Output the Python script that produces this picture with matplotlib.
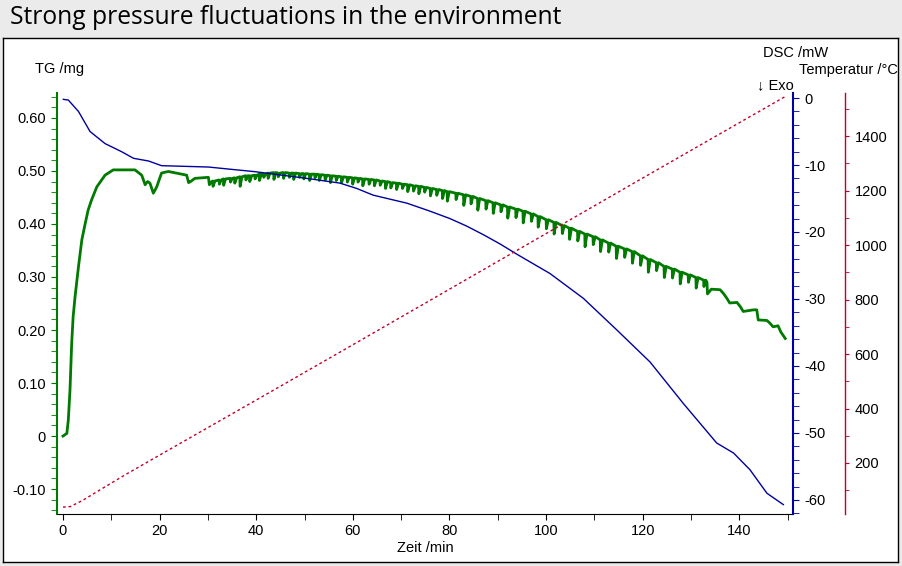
import matplotlib
matplotlib.use("Agg")
import matplotlib.pyplot as plt
from matplotlib.ticker import MultipleLocator, FuncFormatter

plt.rcParams['axes.unicode_minus'] = False
plt.rcParams['font.family'] = ['Liberation Sans', 'DejaVu Sans']

# TG /mg (green, left axis) - initial rise and the first slow dips
tg_rise_time = [0.0, 0.8, 1.1, 1.45, 1.8, 2.1, 2.5, 3.2, 3.9, 4.6, 5.2, 5.9, 7.0, 8.7, 10.4,
                14.9, 16.3, 17.0, 17.5, 18.0, 18.7, 19.4, 20.4, 21.8, 25.6, 26.0, 26.4, 27.3,
                30.1, 30.3, 30.8]
tg_rise_value = [0.000, 0.005, 0.030, 0.087, 0.175, 0.225, 0.263, 0.319, 0.370, 0.401, 0.426,
                 0.445, 0.470, 0.492, 0.502, 0.502, 0.492, 0.474, 0.480, 0.477, 0.458, 0.470,
                 0.496, 0.499, 0.492, 0.478, 0.480, 0.486, 0.488, 0.474, 0.480]

# pressure spikes: start time, level before the spike, depth of the spike
tg_spike_time = [31.0, 32.3, 33.2, 34.6, 35.5, 36.6, 37.8, 38.6, 39.7, 40.6, 41.5, 42.4, 43.6,
                 44.5, 45.6, 46.8, 47.7, 48.9, 49.8, 51.0, 52.1, 53.0, 54.2, 55.3, 56.5, 57.6,
                 58.8, 59.9, 61.0, 62.0, 63.3, 64.4, 65.6, 66.7, 67.8, 69.0, 70.2, 71.3, 72.5,
                 73.6, 74.8, 76.0, 77.3, 78.5,
                 79.5, 81.3, 82.9, 84.4, 85.8, 87.5, 89.0, 90.6, 92.0, 93.7, 95.2, 96.9, 98.3,
                 100.0, 101.6, 103.3, 104.8, 106.5, 108.0, 109.7, 111.2, 112.9, 114.5, 116.2,
                 117.8, 119.5, 121.1, 122.8, 124.4, 126.1, 127.7, 129.4, 131.0, 132.6]
tg_spike_level = [0.481, 0.483, 0.485, 0.486, 0.487, 0.489, 0.491, 0.491, 0.492, 0.494, 0.494,
                  0.496, 0.497, 0.496, 0.497, 0.496, 0.496, 0.495, 0.495, 0.494, 0.494, 0.493,
                  0.492, 0.491, 0.490, 0.489, 0.488, 0.487, 0.486, 0.485, 0.484, 0.483, 0.481,
                  0.480, 0.478, 0.477, 0.475, 0.474, 0.472, 0.471, 0.469, 0.467, 0.465, 0.463,
                  0.461, 0.458, 0.455, 0.452, 0.448, 0.444, 0.440, 0.436, 0.432, 0.428, 0.424,
                  0.419, 0.414, 0.408, 0.403, 0.397, 0.392, 0.386, 0.381, 0.376, 0.370, 0.364,
                  0.358, 0.353, 0.348, 0.340, 0.333, 0.327, 0.320, 0.315, 0.309, 0.304, 0.299,
                  0.294]
tg_spike_depth = [0.010, 0.008, 0.012, 0.007, 0.010, 0.018, 0.008, 0.011, 0.007, 0.012, 0.006,
                  0.010, 0.013, 0.007, 0.011, 0.008, 0.012, 0.007, 0.010, 0.012, 0.007, 0.011,
                  0.009, 0.013, 0.008, 0.011, 0.009, 0.012, 0.007, 0.013, 0.009, 0.011, 0.008,
                  0.013, 0.010, 0.012, 0.008, 0.013, 0.010, 0.014, 0.009, 0.014, 0.011, 0.015,
                  0.018, 0.012, 0.020, 0.014, 0.022, 0.016, 0.020, 0.013, 0.021, 0.016, 0.022,
                  0.014, 0.020, 0.017, 0.022, 0.015, 0.021, 0.018, 0.024, 0.015, 0.022, 0.017,
                  0.023, 0.016, 0.022, 0.018, 0.024, 0.015, 0.021, 0.017, 0.022, 0.014, 0.020,
                  0.012]

# stepped tail after the spiky part
tg_tail_time = [133.3, 133.4, 134.2, 136.0, 136.7, 137.4, 138.0, 139.5, 140.2, 140.8, 142.9,
                143.6, 143.9, 145.7, 146.2, 147.0, 148.0, 148.6, 149.5]
tg_tail_value = [0.290, 0.268, 0.277, 0.276, 0.269, 0.260, 0.251, 0.252, 0.244, 0.235, 0.238,
                 0.238, 0.219, 0.218, 0.214, 0.206, 0.208, 0.196, 0.184]

# DSC /mW (blue, right axis)
dsc_time = [0.07, 1.1, 3.2, 5.6, 8.7, 12.1, 14.6, 17.7, 20.4, 30.1, 34.2, 39.8, 50.5, 57.3,
            60.8, 64.2, 71.2, 76.0, 80.1, 83.5, 87.0, 90.5, 93.9, 100.8, 107.7, 114.6, 121.5,
            128.4, 135.3, 138.8, 142.2, 145.7, 149.1]
dsc_value = [-0.2, -0.3, -2.0, -5.0, -6.8, -8.0, -9.0, -9.4, -10.1, -10.3, -10.6, -11.0, -12.0,
             -12.7, -13.5, -14.5, -15.7, -16.9, -18.0, -19.1, -20.4, -21.8, -23.3, -26.2,
             -29.9, -34.6, -39.4, -45.6, -51.5, -53.0, -55.5, -59.0, -60.7]

# Temperatur /°C (red, outer right axis)
temp_time = [0.0, 1.5, 4.0, 8.0, 13.0, 20.0, 40.0, 60.0, 80.0, 100.0, 120.0, 140.0, 149.5]
temp_value = [38, 40, 62, 105, 158, 229, 431, 634, 838, 1042, 1246, 1449, 1545]

# assemble the TG trace: each spike drops almost vertically and recovers quickly
tg_time = list(tg_rise_time)
tg_value = list(tg_rise_value)
for t, lev, d in zip(tg_spike_time, tg_spike_level, tg_spike_depth):
    tg_time += [t, t + 0.06, t + 0.45]
    tg_value += [lev, lev - d, lev]
tg_time += tg_tail_time
tg_value += tg_tail_value

tg_color = '#007a00'
dsc_color = '#0000a0'
temp_color = '#c0002a'

fig = plt.figure(figsize=(9.03, 5.66), dpi=100)
fig.patch.set_facecolor('#ebebeb')
W, H = 903.0, 566.0

# white panel behind the plot
bg = fig.add_axes([3 / W, 1 - 562 / H, 895 / W, 524 / H], zorder=-5)
bg.set_xticks([])
bg.set_yticks([])
bg.set_facecolor('white')
for s in bg.spines.values():
    s.set_color('black')
    s.set_linewidth(1.0)

fig.text(10 / W, 1 - 18 / H, 'Strong pressure fluctuations in the environment',
         fontsize=17.7, family='Open Sans', va='center', ha='left', color='black')

ax = fig.add_axes([57 / W, 1 - 514 / H, (793 - 57) / W, (514 - 93) / H])
ax.patch.set_alpha(0)
ax2 = ax.twinx()
ax3 = ax.twinx()

ax.plot(tg_time, tg_value, color=tg_color, linewidth=2.0, zorder=3)
ax2.plot(dsc_time, dsc_value, color=dsc_color, linewidth=1.0)
ax3.plot(temp_time, temp_value, color=temp_color, linewidth=1.0, linestyle=(0, (2, 2)))

ax.set_xlim(-1.24, 151.1)
ax.set_ylim(-0.147, 0.647)
ax2.set_ylim(-62.1, 0.75)
ax3.set_ylim(12.8, 1558)

for a in (ax, ax2, ax3):
    a.spines['top'].set_visible(False)
ax.spines['right'].set_visible(False)
ax2.spines['left'].set_visible(False)
ax2.spines['bottom'].set_visible(False)
ax3.spines['left'].set_visible(False)
ax3.spines['bottom'].set_visible(False)
ax.spines['left'].set_color(tg_color)
ax.spines['left'].set_linewidth(1.5)
ax.spines['bottom'].set_color('black')
ax2.spines['right'].set_color(dsc_color)
ax2.spines['right'].set_linewidth(1.5)
ax3.spines['right'].set_position(('axes', (845 - 57) / (793 - 57)))
ax3.spines['right'].set_color(temp_color)
ax3.spines['right'].set_linewidth(1.0)

ax.xaxis.set_major_locator(MultipleLocator(20))
ax.xaxis.set_minor_locator(MultipleLocator(10))
ax.tick_params(axis='x', which='both', length=4, direction='out', labelsize=10.5, pad=3)

ax.yaxis.set_major_locator(MultipleLocator(0.1))
ax.yaxis.set_minor_locator(MultipleLocator(0.02))
ax.yaxis.set_major_formatter(FuncFormatter(lambda v, p: '0' if abs(v) < 1e-9 else f'{v:.2f}'))
ax.tick_params(axis='y', which='both', length=4, color=tg_color, labelsize=10.5, pad=4)

ax2.yaxis.set_major_locator(MultipleLocator(10))
ax2.yaxis.set_minor_locator(MultipleLocator(2))
ax2.yaxis.set_major_formatter(FuncFormatter(lambda v, p: f'{v:.0f}'))
ax2.tick_params(axis='y', which='both', length=4, color=dsc_color, labelsize=10.5, pad=4)

ax3.yaxis.set_major_locator(MultipleLocator(200))
ax3.yaxis.set_minor_locator(MultipleLocator(100))
ax3.yaxis.set_major_formatter(FuncFormatter(lambda v, p: f'{v:.0f}'))
ax3.tick_params(axis='y', which='both', length=3, color=temp_color, labelsize=10.5, pad=4)

fig.text(35 / W, 1 - 69 / H, 'TG /mg', fontsize=10.5, va='center', ha='left')
fig.text(763 / W, 1 - 53 / H, 'DSC /mW', fontsize=10.5, va='center', ha='left')
fig.text(799 / W, 1 - 70 / H, 'Temperatur /°C', fontsize=10.5, va='center', ha='left')
fig.text(757 / W, 1 - 85 / H, '↓ Exo', fontsize=10.5, va='center', ha='left')
fig.text(425 / W, 1 - 548 / H, 'Zeit /min', fontsize=10.5, va='center', ha='center')

fig.savefig('out.png', dpi=100, facecolor=fig.get_facecolor())
